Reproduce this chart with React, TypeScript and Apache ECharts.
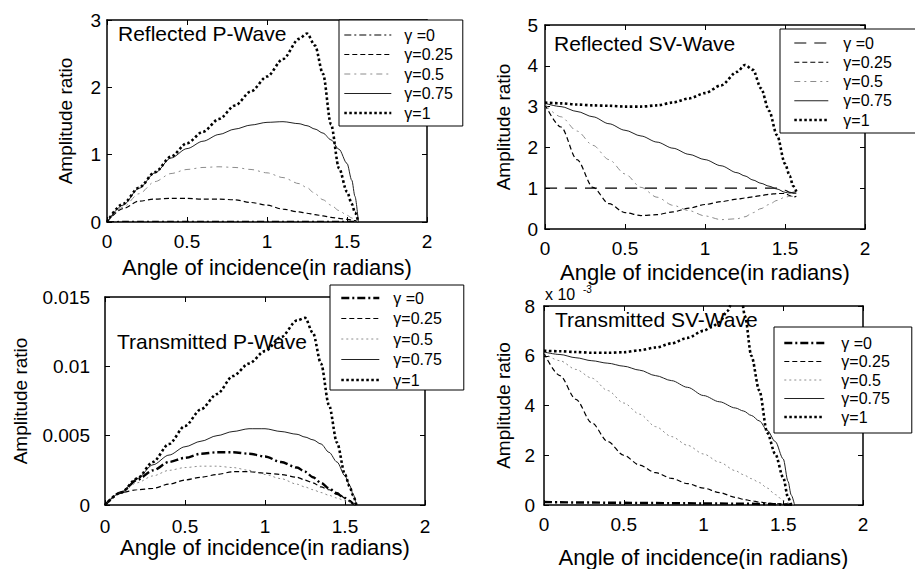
import React, { useEffect, useRef } from "react";
import * as echarts from "echarts";

const FONT = "Liberation Sans, Arial, Helvetica, sans-serif";

const legendLabels = ["γ =0", "γ=0.25", "γ=0.5", "γ=0.75", "γ=1"];
const xTicks = { min: 0, max: 2, interval: 0.5 };

// shared angle grid (radians)
const X = [0, 0.1, 0.2, 0.3, 0.4, 0.5, 0.6, 0.7, 0.8, 0.9, 1.0, 1.1, 1.2, 1.25, 1.3, 1.35, 1.4, 1.45, 1.5, 1.53, 1.55, 1.571];

// Reflected P-Wave
const rpG0 = [0, 0.01, 0.01, 0.01, 0.01, 0.01, 0.01, 0.01, 0.01, 0.01, 0.01, 0.01, 0.01, 0.01, 0.01, 0.01, 0.01, 0.01, 0.01, 0.01, 0.01, 0];
const rpG025 = [0, 0.2, 0.31, 0.34, 0.35, 0.35, 0.34, 0.34, 0.33, 0.29, 0.25, 0.19, 0.15, 0.13, 0.11, 0.09, 0.07, 0.055, 0.04, 0.03, 0.02, 0];
const rpG05 = [0, 0.22, 0.42, 0.6, 0.72, 0.78, 0.81, 0.82, 0.81, 0.78, 0.73, 0.66, 0.57, 0.51, 0.42, 0.33, 0.25, 0.17, 0.1, 0.06, 0.03, 0];
const rpG075 = [0, 0.25, 0.5, 0.73, 0.95, 1.09, 1.2, 1.3, 1.38, 1.44, 1.48, 1.49, 1.46, 1.43, 1.38, 1.32, 1.22, 1.08, 0.87, 0.62, 0.38, 0];
const rpG1 = [0, 0.27, 0.51, 0.74, 0.97, 1.17, 1.34, 1.53, 1.73, 1.94, 2.16, 2.42, 2.72, 2.8, 2.62, 2.2, 1.45, 0.8, 0.45, 0.27, 0.14, 0];

// Reflected SV-Wave
const rsG0 = [1, 1, 1, 1, 1, 1, 1, 1, 1, 1, 1, 1, 1, 1, 1, 1, 1, 1, 0.95, 0.9, 0.88, 0.88];
const rsG025 = [3.05, 2.5, 1.7, 1.02, 0.62, 0.4, 0.33, 0.35, 0.42, 0.51, 0.6, 0.67, 0.73, 0.76, 0.79, 0.82, 0.85, 0.87, 0.87, 0.82, 0.78, 0.8];
const rsG05 = [3.05, 2.75, 2.4, 2.05, 1.7, 1.35, 1.02, 0.78, 0.58, 0.45, 0.32, 0.23, 0.25, 0.3, 0.4, 0.5, 0.6, 0.7, 0.78, 0.8, 0.8, 0.85];
const rsG075 = [3.08, 3.0, 2.88, 2.75, 2.58, 2.42, 2.28, 2.13, 1.98, 1.83, 1.7, 1.55, 1.38, 1.3, 1.2, 1.12, 1.05, 0.98, 0.9, 0.88, 0.9, 0.92];
const rsG1 = [3.1, 3.08, 3.05, 3.03, 3.02, 3.0, 3.0, 3.03, 3.1, 3.2, 3.33, 3.52, 3.85, 4.02, 3.9, 3.45, 2.9, 2.3, 1.6, 1.3, 1.06, 0.92];

// Transmitted P-Wave
const tpG0 = [0, 0.0009, 0.0018, 0.0025, 0.0031, 0.0034, 0.0037, 0.0038, 0.0038, 0.0037, 0.0035, 0.0031, 0.0027, 0.0024, 0.002, 0.0016, 0.0012, 0.0008, 0.0005, 0.0003, 0.0001, 0];
const tpG025 = [0, 0.0009, 0.0011, 0.0012, 0.0015, 0.0018, 0.002, 0.0022, 0.0024, 0.0024, 0.0023, 0.0022, 0.002, 0.0018, 0.0016, 0.0013, 0.0011, 0.0009, 0.0005, 0.0003, 0.00015, 0];
const tpG05 = [0, 0.0009, 0.0016, 0.0021, 0.0025, 0.0027, 0.0028, 0.0028, 0.0027, 0.0025, 0.0022, 0.0019, 0.0015, 0.0013, 0.0011, 0.0009, 0.0007, 0.0005, 0.0003, 0.0002, 0.0001, 0];
const tpG075 = [0, 0.0009, 0.0019, 0.0029, 0.0036, 0.0042, 0.0046, 0.005, 0.0053, 0.0055, 0.0055, 0.0053, 0.0051, 0.0049, 0.0047, 0.0044, 0.0038, 0.0031, 0.0021, 0.0014, 0.0008, 0];
const tpG1 = [0, 0.0009, 0.0019, 0.0031, 0.0044, 0.0057, 0.0069, 0.008, 0.0093, 0.0102, 0.0111, 0.0121, 0.0133, 0.0135, 0.0124, 0.0102, 0.0072, 0.0045, 0.0022, 0.0013, 0.0007, 0];

// Transmitted SV-Wave (x 10^-3)
const tsG0 = [0.12, 0.11, 0.1, 0.1, 0.09, 0.09, 0.08, 0.08, 0.07, 0.07, 0.06, 0.06, 0.05, 0.05, 0.05, 0.04, 0.04, 0.03, 0.02, 0.02, 0.01, 0];
const tsG025 = [6.1, 5.2, 4.25, 3.3, 2.55, 2.0, 1.6, 1.3, 1.07, 0.86, 0.68, 0.5, 0.31, 0.23, 0.17, 0.12, 0.08, 0.06, 0.04, 0.03, 0.02, 0];
const tsG05 = [6.1, 5.8, 5.45, 5.1, 4.6, 4.1, 3.65, 3.15, 2.75, 2.4, 2.05, 1.72, 1.38, 1.22, 1.06, 0.9, 0.68, 0.42, 0.18, 0.08, 0.03, 0];
const tsG075 = [6.15, 6.05, 5.92, 5.8, 5.7, 5.58, 5.42, 5.2, 5.0, 4.73, 4.4, 4.15, 3.9, 3.78, 3.6, 3.38, 3.0, 2.55, 1.85, 0.95, 0.4, 0];
const tsG1X = [0, 0.1, 0.2, 0.3, 0.4, 0.5, 0.6, 0.7, 0.8, 0.9, 1.0, 1.05, 1.1, 1.15, 1.2, 1.23, 1.26, 1.3, 1.35, 1.4, 1.45, 1.5, 1.53, 1.55];
const tsG1 = [6.2, 6.18, 6.15, 6.12, 6.12, 6.14, 6.22, 6.33, 6.5, 6.72, 7.0, 7.15, 7.35, 7.8, 8.6, 8.7, 7.6, 6.0, 4.6, 2.9, 2.05, 1.1, 0.3, 0];

const panelTitles = ["Reflected P-Wave", "Reflected SV-Wave", "Transmitted P-Wave", "Transmitted SV-Wave"];
const yRanges = [
  { min: 0, max: 3, interval: 1 },
  { min: 0, max: 5, interval: 1 },
  { min: 0, max: 0.015, interval: 0.005 },
  { min: 0, max: 8, interval: 2 },
];

const BLACK = "#000";
const GRAY = "#8c8c8c";

export default function App() {
  const ref = useRef<HTMLDivElement>(null);
  useEffect(() => {
    if (!ref.current) return;
    const chart = echarts.init(ref.current, null, { renderer: "svg" });

    const grids = [
      { left: 107, top: 20, width: 320, height: 202 },
      { left: 545, top: 25, width: 320, height: 204 },
      { left: 105, top: 297, width: 320, height: 208 },
      { left: 544, top: 306, width: 319, height: 204 },
    ];
    const xNameGap = [34, 32, 29, 41];
    const xLabelMargin = [10, 10, 12, 10];
    const yNameGap = [32, 32, 75, 31];
    const yLabelMargin = [6, 7, 15, 9];

    const axisLine = { show: true, onZero: false, lineStyle: { color: BLACK, width: 1.5 } };
    const tick = { show: true, inside: true, length: 5, lineStyle: { color: BLACK, width: 1 } };

    const xAxis: any[] = [];
    const yAxis: any[] = [];
    for (let i = 0; i < 4; i++) {
      xAxis.push({
        type: "value", gridIndex: i, position: "bottom", ...xTicks,
        axisLine, axisTick: tick, splitLine: { show: false },
        axisLabel: { color: BLACK, fontSize: 19, fontFamily: FONT, margin: xLabelMargin[i] },
        name: "Angle of incidence(in radians)", nameLocation: "middle", nameGap: xNameGap[i],
        nameTextStyle: { color: BLACK, fontSize: 22, fontFamily: FONT },
      });
      yAxis.push({
        type: "value", gridIndex: i, position: "left", ...yRanges[i],
        axisLine, axisTick: tick, splitLine: { show: false },
        axisLabel: { color: BLACK, fontSize: 19, fontFamily: FONT, margin: yLabelMargin[i] },
        name: "Amplitude ratio", nameLocation: "middle", nameGap: yNameGap[i], nameRotate: 90,
        nameTextStyle: { color: BLACK, fontSize: 19, fontFamily: FONT },
      });
    }
    for (let i = 0; i < 4; i++) {
      xAxis.push({
        type: "value", gridIndex: i, position: "top", ...xTicks,
        axisLine, axisTick: tick, splitLine: { show: false }, axisLabel: { show: false },
      });
      yAxis.push({
        type: "value", gridIndex: i, position: "right", ...yRanges[i],
        axisLine, axisTick: tick, splitLine: { show: false }, axisLabel: { show: false },
      });
    }

    const sDashDot = { color: BLACK, width: 1.2, type: [7, 3, 2, 3] };
    const sDashDotThick = { color: BLACK, width: 2.4, type: [8, 3, 2, 3] };
    const sLongDash = { color: BLACK, width: 1.2, type: [12, 8] };
    const sDashed = { color: BLACK, width: 1.2, type: [5, 3] };
    const sFaint = { color: GRAY, width: 1, type: [2, 3] };
    const sFaintDashDot = { color: GRAY, width: 1, type: [6, 4, 2, 4] };
    const sSolid = { color: "#222", width: 1, type: "solid" };
    const sDotted = { color: BLACK, width: 2.6, type: [2.5, 2.5] };

    const mk = (panel: number, idx: number, xs: number[], ys: number[], lineStyle: any) => ({
      type: "line",
      name: `${panel}|${legendLabels[idx]}`,
      xAxisIndex: panel,
      yAxisIndex: panel,
      data: xs.map((x, k) => [x, ys[k]]),
      symbol: "none",
      smooth: 0.3,
      smoothMonotone: "x",
      clip: true,
      lineStyle,
      itemStyle: { color: lineStyle.color },
    });

    const series = [
      mk(0, 0, X, rpG0, sDashDot),
      mk(0, 1, X, rpG025, sDashed),
      mk(0, 2, X, rpG05, sFaintDashDot),
      mk(0, 3, X, rpG075, sSolid),
      mk(0, 4, X, rpG1, sDotted),
      mk(1, 0, X, rsG0, sLongDash),
      mk(1, 1, X, rsG025, sDashed),
      mk(1, 2, X, rsG05, sFaintDashDot),
      mk(1, 3, X, rsG075, sSolid),
      mk(1, 4, X, rsG1, sDotted),
      mk(2, 0, X, tpG0, sDashDotThick),
      mk(2, 1, X, tpG025, sDashed),
      mk(2, 2, X, tpG05, sFaint),
      mk(2, 3, X, tpG075, sSolid),
      mk(2, 4, X, tpG1, sDotted),
      mk(3, 0, X, tsG0, sDashDotThick),
      mk(3, 1, X, tsG025, sDashed),
      mk(3, 2, X, tsG05, sFaint),
      mk(3, 3, X, tsG075, sSolid),
      mk(3, 4, tsG1X, tsG1, sDotted),
    ];

    const legendBoxes = [
      { left: 339, top: 20, padding: [7, 10, 5, 4], itemWidth: 47, itemGap: 3.5, textPad: 8 },
      { left: 780, top: 29, padding: [6, 40, 5, 13], itemWidth: 34, itemGap: 3.25, textPad: 10 },
      { left: 330, top: 285, padding: [5, 22, 2, 10], itemWidth: 38, itemGap: 4.5, textPad: 9 },
      { left: 774, top: 327, padding: [8, 22, 8, 9], itemWidth: 40, itemGap: 2.5, textPad: 12 },
    ];
    const legend = legendBoxes.map((b, i) => ({
      orient: "vertical",
      left: b.left,
      top: b.top,
      padding: b.padding,
      itemWidth: b.itemWidth,
      itemHeight: 12,
      itemGap: b.itemGap,
      backgroundColor: "#fff",
      borderColor: BLACK,
      borderWidth: 1,
      borderRadius: 0,
      selectedMode: false,
      z: 10,
      itemStyle: { opacity: 0, borderWidth: 0 },
      lineStyle: { width: "inherit" },
      textStyle: { color: BLACK, fontSize: 16, fontFamily: FONT, padding: [0, 0, 0, b.textPad] },
      data: legendLabels.map((l) => `${i}|${l}`),
      formatter: (n: string) => n.split("|")[1],
    }));

    const titlePos = [
      { left: 118, top: 23 },
      { left: 554, top: 33 },
      { left: 117, top: 331 },
      { left: 555, top: 309 },
    ];
    const title = panelTitles.map((t, i) => ({
      text: t,
      left: titlePos[i].left,
      top: titlePos[i].top,
      padding: 0,
      textStyle: { color: BLACK, fontSize: 21, fontWeight: "normal", fontFamily: FONT },
      z: 5,
    }));

    chart.setOption({
      animation: false,
      backgroundColor: "#fff",
      grid: grids,
      xAxis,
      yAxis,
      series,
      legend,
      title,
      graphic: [
        { type: "text", left: 545, top: 286, style: { text: "x 10", fontSize: 16, fontFamily: FONT, fill: BLACK } },
        { type: "text", left: 583, top: 284, style: { text: "-3", fontSize: 10, fontFamily: FONT, fill: BLACK } },
      ],
    });
    return () => chart.dispose();
  }, []);
  return <div ref={ref} style={{ position: "fixed", left: 0, top: 0, width: 915, height: 569, background: "#fff" }} />;
}
